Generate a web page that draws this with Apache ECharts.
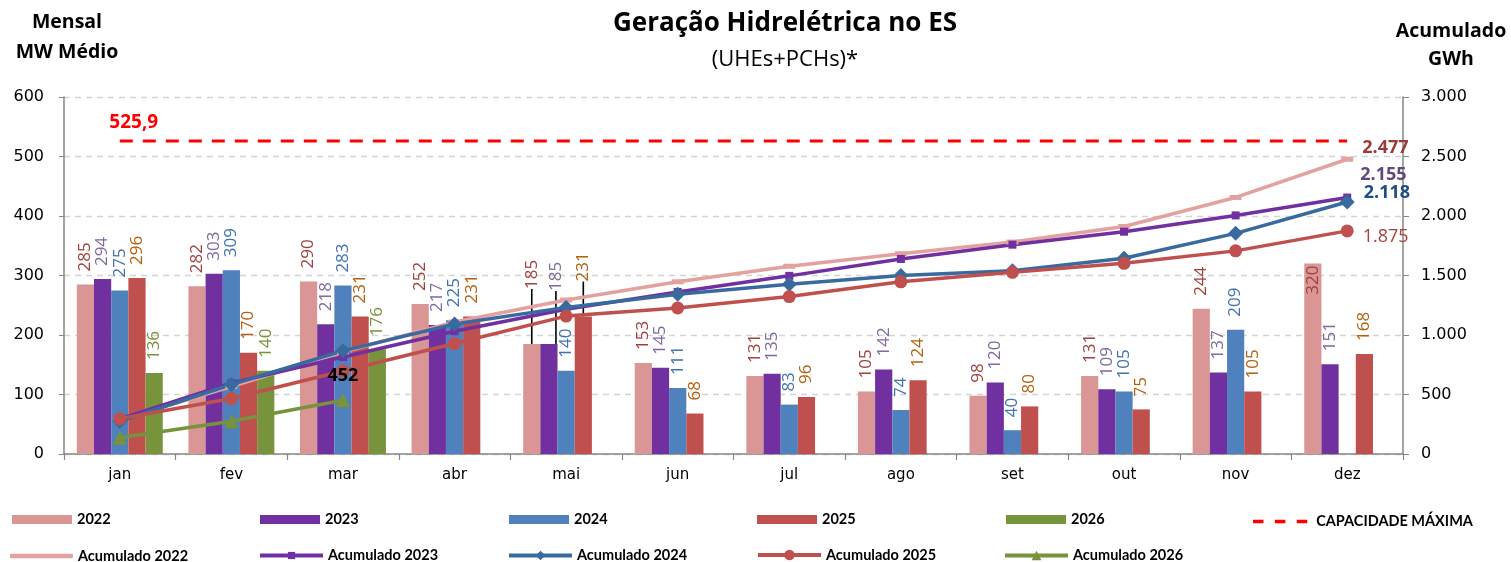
<!DOCTYPE html>
<html>
<head>
<meta charset="utf-8">
<script src="https://cdn.jsdelivr.net/npm/echarts@6/dist/echarts.min.js"></script>
<style>
html,body{margin:0;padding:0;background:#fff;}
#chart{width:1511px;height:562px;}
</style>
</head>
<body>
<div id="chart"></div>
<script>
const categories = ['jan','fev','mar','abr','mai','jun','jul','ago','set','out','nov','dez'];
const bar2022 = [285,282,290,252,185,153,131,105,98,131,244,320];
const bar2023 = [294,303,218,217,185,145,135,142,120,109,137,151];
const bar2024 = [275,309,283,225,140,111,83,74,40,105,209,null];
const bar2025 = [296,170,231,231,231,68,96,124,80,75,105,168];
const bar2026 = [136,140,176,null,null,null,null,null,null,null,null,null];
const acum2022 = [285,567,857,1109,1294,1447,1578,1683,1781,1912,2156,2477];
const acum2023 = [294,597,815,1032,1217,1362,1497,1639,1759,1868,2005,2155];
const acum2024 = [275,584,867,1092,1232,1343,1426,1500,1540,1645,1854,2118];
const acum2025 = [296,466,697,928,1159,1227,1323,1447,1527,1602,1707,1875];
const acum2026 = [136,276,452,null,null,null,null,null,null,null,null,null];
const capacidade = [525.9,525.9,525.9,525.9,525.9,525.9,525.9,525.9,525.9,525.9,525.9,525.9];
const leftTicks = {min:0,max:600,interval:100};
const rightTicks = {min:0,max:3000,interval:500};

const fmt = v => String(Math.round(v)).replace(/\B(?=(\d{3})+(?!\d))/g, '.');
const CAL = '"Open Sans", Lato, sans-serif';
const LEG = 'Lato, "Open Sans", sans-serif';
const AX = '"DejaVu Sans", Verdana, sans-serif';

function barLabel(color){
  return {show:true, position:'top', rotate:90, align:'left', verticalAlign:'middle',
    distance:13, fontSize:17, color:color, fontFamily:CAL};
}
function barSeries(name, data, color, labelColor, overrides, layout){
  const s = {
    name:name, type:'bar', yAxisIndex:0, barGap:'0%', barCategoryGap:'23%',
    itemStyle:{color:color},
    label:barLabel(labelColor),
    labelLine:{show:false, lineStyle:{color:'#000', width:1.6}},
    data:data.map((v,i)=> overrides && overrides[i] ? Object.assign({value:v}, overrides[i]) : v)
  };
  if (layout) s.labelLayout = layout;
  return s;
}
function lastLabel(arr, color, bold, offset, size){
  return arr.map((v,i)=> i===arr.length-1 ? {value:v, label:{show:true, position:'right', distance:9,
    offset:offset, formatter:p=>fmt(p.value), color:color, fontWeight:bold?'bold':'normal', fontSize:size||18, fontFamily:CAL}} : v);
}
function lineSeries(name, data, color, symbol, size, width){
  return {name:name, type:'line', yAxisIndex:1, z:4, data:data, symbol:symbol, symbolSize:size,
    showSymbol:true, lineStyle:{color:color, width:width||3.5}, itemStyle:{color:color},
    label:{show:false}, connectNulls:false};
}

const chart = echarts.init(document.getElementById('chart'), null, {renderer:'canvas'});

const legendText = {color:'#000', fontWeight:'bold', fontSize:14.5, fontFamily:LEG};
const legends = [];
const leftsRow1 = [12,260,509,757,1006];
const namesRow1 = ['2022','2023','2024','2025','2026'];
namesRow1.forEach((n,i)=>{
  legends.push({data:[n], left:leftsRow1[i], top:512, itemWidth:60, itemHeight:9,
    icon:'rect', itemGap:6, textStyle:legendText, padding:0, selectedMode:false});
});
legends.push({data:['CAPACIDADE MÁXIMA'], left:1253, top:514, itemWidth:62, itemHeight:3.5,
  icon:'path://M0,0H12V4H0Z M25,0H37V4H25Z M50,0H62V4H50Z', itemGap:6, textStyle:legendText, padding:0, selectedMode:false});
const leftsRow2 = [10,258,507,756,1003];
const topsRow2 = [548.5,548,548,547.5,548];
const namesRow2 = ['Acumulado 2022','Acumulado 2023','Acumulado 2024','Acumulado 2025','Acumulado 2026'];
const heightsRow2 = [4.5, 9, 12, 13, 12];
namesRow2.forEach((n,i)=>{
  const l = {data:[n], left:leftsRow2[i], top:topsRow2[i], itemWidth:63, itemHeight:heightsRow2[i], itemGap:6,
    textStyle:legendText, padding:0, selectedMode:false, lineStyle:{width:4}};
  if (i===0) l.icon = 'roundRect';
  legends.push(l);
});

const option = {
  animation:false,
  backgroundColor:'#fff',
  textStyle:{fontFamily:CAL},
  title:[
    {text:'Geração Hidrelétrica no ES', subtext:'(UHEs+PCHs)*', left:785, top:9, textAlign:'center', padding:0, itemGap:8,
     textStyle:{fontSize:26, fontWeight:'bold', color:'#000', fontFamily:CAL, lineHeight:30},
     subtextStyle:{fontSize:22, color:'#000', fontFamily:CAL, lineHeight:26}},
    {text:'Mensal\nMW Médio', left:67, top:7, textAlign:'center', padding:0,
     textStyle:{fontSize:19.5, fontWeight:'bold', color:'#000', fontFamily:CAL, lineHeight:30}},
    {text:'Acumulado\nGWh', left:1451, top:17, textAlign:'center', padding:0,
     textStyle:{fontSize:19.5, fontWeight:'bold', color:'#000', fontFamily:CAL, lineHeight:28}}
  ],
  legend:legends,
  grid:{left:64, right:108, top:97, bottom:108, containLabel:false},
  xAxis:{type:'category', data:categories, boundaryGap:true,
    axisLine:{lineStyle:{color:'#868686', width:1.5}},
    axisTick:{show:true, length:6, lineStyle:{color:'#868686', width:1.2}},
    axisLabel:{fontFamily:AX, fontSize:15, color:'#000', margin:14}},
  yAxis:[
    {type:'value', min:leftTicks.min, max:leftTicks.max, interval:leftTicks.interval, position:'left',
     axisLine:{show:true, lineStyle:{color:'#868686', width:1.5}},
     axisTick:{show:true, length:5, lineStyle:{color:'#868686'}},
     axisLabel:{fontFamily:AX, fontSize:16, color:'#000', margin:20},
     splitLine:{show:true, lineStyle:{color:'#D4D4D4', type:[6,5], width:1.3}}},
    {type:'value', min:rightTicks.min, max:rightTicks.max, interval:rightTicks.interval, position:'right',
     axisLine:{show:true, lineStyle:{color:'#868686', width:1.5}},
     axisTick:{show:true, length:6, lineStyle:{color:'#868686'}},
     axisLabel:{fontFamily:AX, fontSize:16, color:'#000', margin:18, formatter:v=>fmt(v)},
     splitLine:{show:false}}
  ],
  series:[
    barSeries('2022', bar2022, '#D99694', '#A0413E',
      {4:{labelLine:{show:true}}, 11:{label:{position:'insideTop', align:'right', distance:2}}},
      p=> p.dataIndex===4 ? {dx:42} : {}),
    barSeries('2023', bar2023, '#7030A0', '#7F6A9F', {4:{labelLine:{show:true}}},
      p=> p.dataIndex===4 ? {dx:40, dy:7} : {}),
    barSeries('2024', bar2024, '#4F81BD', '#4272B0'),
    barSeries('2025', bar2025, '#C0504D', '#B4600F', {4:{labelLine:{show:true}}},
      p=> p.dataIndex===4 ? {dx:22} : {}),
    barSeries('2026', bar2026, '#77933C', '#77933C'),
    {name:'CAPACIDADE MÁXIMA', type:'line', yAxisIndex:0, z:3, symbol:'circle', symbolSize:0.01, showSymbol:true,
     data:capacidade.map((v,i)=> i===0 ?
      {value:v, label:{show:true, position:'top', distance:9, offset:[14,0], formatter:p=>String(p.value).replace('.',','),
       color:'#FF0000', fontWeight:'bold', fontSize:19, fontFamily:CAL}} : v),
     lineStyle:{color:'#FF0000', width:3, type:[13,10]}, itemStyle:{color:'#FF0000'}},
    lineSeries('Acumulado 2022', lastLabel(acum2022,'#9B3A38',true,[0,-11]), '#E3A19F', 'rect', [12,5]),
    lineSeries('Acumulado 2023', lastLabel(acum2023,'#604A7B',true,[0,-23]), '#7030A0', 'rect', 8),
    lineSeries('Acumulado 2024', lastLabel(acum2024,'#1F4E86',true,[0,-9]), '#386AA0', 'diamond', 15),
    lineSeries('Acumulado 2025', lastLabel(acum2025,'#A8423F',false,[0,6]), '#C0504D', 'circle', 13),
    lineSeries('Acumulado 2026', acum2026.map((v,i)=> i===2 ? {value:v, label:{show:true, position:'top', distance:8,
      formatter:p=>fmt(p.value), color:'#000', fontWeight:'bold', fontSize:18, fontFamily:CAL}} : v), '#77933C', 'triangle', 14)
  ]
};
chart.setOption(option);
</script>
</body>
</html>
